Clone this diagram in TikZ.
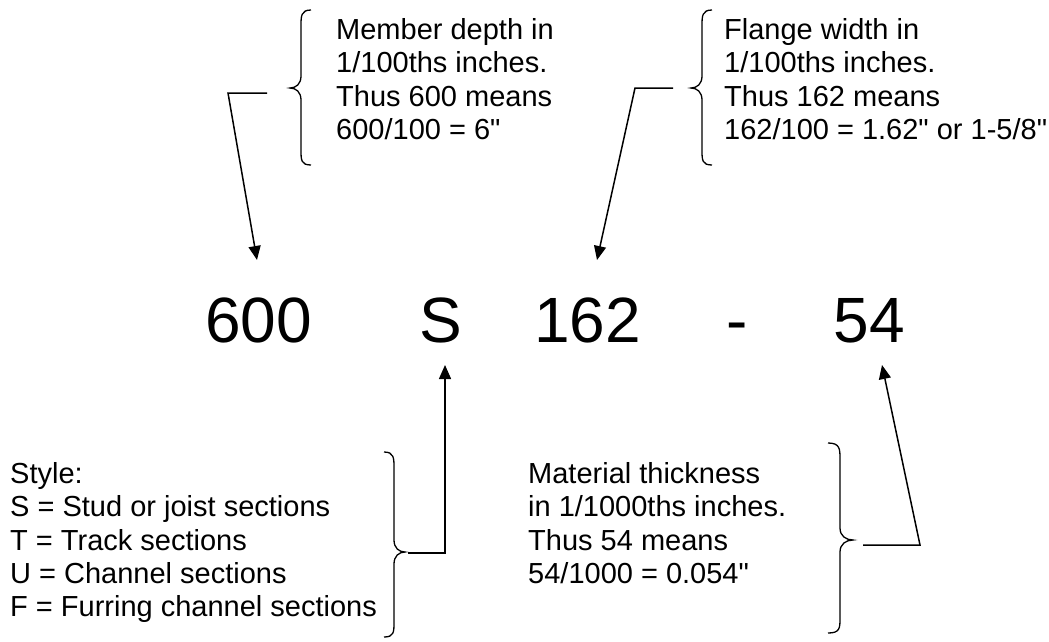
\documentclass[tikz,border=0pt]{standalone}
\usepackage{fontspec}
\setmainfont{Liberation Sans}
\usetikzlibrary{arrows.meta}
\tikzset{
  big/.style={font=\fontsize{64}{70}\selectfont, inner sep=0pt, anchor=base},
  note/.style={font=\fontsize{29}{33.4}\selectfont, inner sep=0pt, anchor=north west, align=left},
  arr/.style={line width=1.5pt, -{Triangle[length=14pt,width=12pt]}},
  brc/.style={line width=1.3pt},
}
\begin{document}
\begin{tikzpicture}[x=1pt,y=-1pt]
\useasboundingbox (0,0) rectangle (1049,641);
% big code
\node[big] (n600) at (258.5,342) {600};
\node[big] (nS) at (441,342) {S};
\node[big] (n162) at (587.5,342) {162};
\node[big] (ndash) at (737.5,342) {-};
\node[big] (n54) at (869.5,342) {54};
% notes
\node[note] (tdepth) at (336,17) {\rule{0pt}{22pt}Member depth in\\1/100ths inches.\\Thus 600 means\\600/100 = 6\textquotedbl};
\node[note] (tflange) at (724,17) {\rule{0pt}{22pt}Flange width in\\1/100ths inches.\\Thus 162 means\\162/100 = 1.62\textquotedbl{} or 1-5/8\textquotedbl};
\node[note] (tstyle) at (10,461) {\rule{0pt}{22pt}Style:\\S = Stud or joist sections\\T = Track sections\\U = Channel sections\\F = Furring channel sections};
\node[note] (tthick) at (528,461) {\rule{0pt}{22pt}Material thickness\\in 1/1000ths inches.\\Thus 54 means\\54/1000 = 0.054\textquotedbl};
% braces (tip pointing left)
\draw[brc] (311,10) .. controls (301,10) and (301,16) .. (301,26) -- (301,76)
  .. controls (301,84) and (296,88) .. (290,88) .. controls (296,88) and (301,92) .. (301,100)
  -- (301,150) .. controls (301,160) and (301,165) .. (311,165);
\draw[brc] (712,10) .. controls (702,10) and (702,16) .. (702,26) -- (702,76)
  .. controls (702,84) and (697,88) .. (691,88) .. controls (697,88) and (702,92) .. (702,100)
  -- (702,150) .. controls (702,160) and (702,165) .. (712,165);
% braces (tip pointing right)
\draw[brc] (384,452) .. controls (394,452) and (394,458) .. (394,468) -- (394,540)
  .. controls (394,548) and (399,552) .. (405,552) .. controls (399,552) and (394,556) .. (394,564)
  -- (394,622) .. controls (394,632) and (394,637) .. (384,637);
\draw[brc] (828,443) .. controls (840,443) and (840,449) .. (840,459) -- (840,528)
  .. controls (840,536) and (846,540) .. (853,540) .. controls (846,540) and (840,544) .. (840,552)
  -- (840,618) .. controls (840,628) and (840,633) .. (828,633);
% connector points
\coordinate (s1) at (267,93);  \coordinate (k1) at (228,93);  \coordinate (e1) at (257,260);
\coordinate (s2) at (673,88);  \coordinate (k2) at (635,88);  \coordinate (e2) at (597,260);
\coordinate (s3) at (408,553); \coordinate (k3) at (445,553); \coordinate (e3) at (445,365);
\coordinate (s4) at (863,545); \coordinate (k4) at (920,545); \coordinate (e4) at (882,365);
\draw[arr] (s1) -- (k1) -- (e1);
\draw[arr] (s2) -- (k2) -- (e2);
\draw[arr] (s3) -- (k3) -- (e3);
\draw[arr] (s4) -- (k4) -- (e4);
\end{tikzpicture}
\end{document}
